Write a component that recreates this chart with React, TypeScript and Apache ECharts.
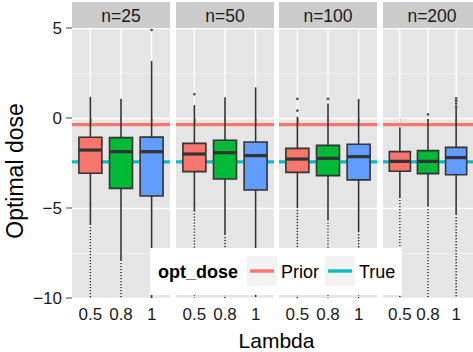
import React, { useEffect, useRef } from "react";
import * as echarts from "echarts";

// Facet labels and the Lambda levels shown in every facet
const panelLabels = ["n=25", "n=50", "n=100", "n=200"];
const lambdaLabels = ["0.5", "0.8", "1"];
const lambdaColors = ["#F8766D", "#00BA38", "#619CFF"];

// Box summaries per Lambda level: [lower whisker, Q1, median, Q3, upper whisker]
const boxesN25 = [
  [-5.95, -3.07, -1.78, -1.07, 1.18],
  [-7.95, -3.91, -1.87, -1.09, 1.07],
  [-10.0, -4.33, -1.87, -1.06, 3.17],
];
const boxesN50 = [
  [-5.2, -2.98, -2.0, -1.41, 0.72],
  [-6.5, -3.39, -1.93, -1.24, 1.15],
  [-9.95, -4.0, -2.09, -1.33, 1.7],
];
const boxesN100 = [
  [-5.0, -3.02, -2.28, -1.69, 0.07],
  [-5.7, -3.2, -2.24, -1.52, 0.81],
  [-6.35, -3.44, -2.15, -1.46, 1.06],
];
const boxesN200 = [
  [-4.46, -2.96, -2.41, -1.87, -0.52],
  [-4.93, -3.09, -2.41, -1.81, -0.06],
  [-5.39, -3.15, -2.2, -1.63, 0.59],
];
const panelBoxes = [boxesN25, boxesN50, boxesN100, boxesN200];

// Outliers above the upper whisker
const highOutliers = [
  [[], [], [4.89]],
  [[1.32], [], []],
  [[1.06, 0.41], [1.06], []],
  [[], [0.2], [1.09, 0.95, 0.8, 0.63]],
];
// Dense runs of outliers below the lower whisker: [top, bottom]; null = none
const lowOutlierRuns = [
  [[-6.05, -10], [-8.05, -10], null],
  [[-5.3, -10], [-6.6, -10], null],
  [[-5.1, -10], [-5.8, -10], [-6.45, -10]],
  [[-4.55, -10], [-5.05, -10], [-5.5, -10]],
];

// Horizontal reference doses
const refNames = ["Prior", "True"];
const refValues = [-0.37, -2.44];
const refColors = ["#F8766D", "#00BFC4"];

const yTicks = [5, 0, -5, -10];

const GRID_LEFTS = [72, 176, 279, 383];
const GRID_WIDTH = 98;
const GRID_TOP = 28;
const GRID_HEIGHT = 270;
const FONT = "'Liberation Sans', Arial, Helvetica, sans-serif";

function buildOption() {
  const grids: any[] = [];
  const xAxes: any[] = [];
  const yAxes: any[] = [];
  const series: any[] = [];
  const graphics: any[] = [];

  panelLabels.forEach((label, p) => {
    grids.push({
      left: GRID_LEFTS[p],
      top: GRID_TOP,
      width: GRID_WIDTH,
      height: GRID_HEIGHT,
      show: true,
      backgroundColor: "#E5E5E5",
      borderWidth: 0,
    });
    xAxes.push({
      type: "value",
      gridIndex: p,
      min: 0.4,
      max: 3.6,
      axisLine: { show: false },
      splitLine: { show: false },
      axisTick: {
        show: true,
        customValues: [1, 2, 3],
        length: 7,
        lineStyle: { color: "#7F7F7F", width: 1.5 },
      },
      axisLabel: {
        customValues: [1, 2, 3],
        formatter: (v: number) => lambdaLabels[Math.round(v) - 1] ?? "",
        fontSize: 17,
        fontFamily: FONT,
        color: "#1A1A1A",
        margin: 8,
      },
    });
    yAxes.push({
      type: "value",
      gridIndex: p,
      min: -10,
      max: 5,
      interval: 5,
      axisLine: { show: false },
      axisTick: {
        show: p === 0,
        length: 6,
        lineStyle: { color: "#7F7F7F", width: 1.5 },
      },
      axisLabel: {
        show: p === 0,
        customValues: yTicks,
        formatter: (v: number) => String(v).replace("-", "\u2212"),
        fontSize: 17,
        fontFamily: FONT,
        color: "#1A1A1A",
        margin: 10,
      },
      splitLine: { show: true, lineStyle: { color: "#FFFFFF", width: 1.3 } },
      minorTick: { show: false, splitNumber: 2 },
      minorSplitLine: { show: true, lineStyle: { color: "#F2F2F2", width: 0.8 } },
    });

    // vertical grid lines at each Lambda level
    series.push({
      type: "custom",
      xAxisIndex: p,
      yAxisIndex: p,
      silent: true,
      z: 1,
      encode: { x: 0, y: [1, 2] },
      data: lambdaLabels.map((_, i) => [i + 1, -10, 5]),
      renderItem: (_params: any, api: any) => {
        const a = api.coord([api.value(0), api.value(2)]);
        const b = api.coord([api.value(0), api.value(1)]);
        return {
          type: "line",
          shape: { x1: a[0], y1: a[1], x2: b[0], y2: b[1] },
          style: { stroke: "#FFFFFF", lineWidth: 1.4 },
        };
      },
    });

    // reference dose lines
    refNames.forEach((name, r) => {
      series.push({
        type: "line",
        name,
        xAxisIndex: p,
        yAxisIndex: p,
        z: 2,
        silent: true,
        showSymbol: false,
        data: [
          [0.4, refValues[r]],
          [3.6, refValues[r]],
        ],
        lineStyle: { color: refColors[r], width: 3.4 },
        itemStyle: { color: refColors[r] },
      });
    });

    // boxes
    series.push({
      type: "custom",
      xAxisIndex: p,
      yAxisIndex: p,
      silent: true,
      z: 3,
      encode: { x: 0, y: [1, 2, 3, 4, 5] },
      data: panelBoxes[p].map((b, i) => [i + 1, ...b]),
      renderItem: (_params: any, api: any) => {
        const x = api.value(0);
        const lo = api.coord([x, api.value(1)]);
        const q1 = api.coord([x, api.value(2)]);
        const md = api.coord([x, api.value(3)]);
        const q3 = api.coord([x, api.value(4)]);
        const hi = api.coord([x, api.value(5)]);
        const w = api.size([0.75, 0])[0];
        const cx = lo[0];
        const stroke = "#333333";
        return {
          type: "group",
          children: [
            {
              type: "line",
              shape: { x1: cx, y1: hi[1], x2: cx, y2: q3[1] },
              style: { stroke, lineWidth: 1.6 },
            },
            {
              type: "line",
              shape: { x1: cx, y1: q1[1], x2: cx, y2: lo[1] },
              style: { stroke, lineWidth: 1.6 },
            },
            {
              type: "rect",
              shape: { x: cx - w / 2, y: q3[1], width: w, height: q1[1] - q3[1] },
              style: { fill: lambdaColors[x - 1], stroke, lineWidth: 1.6 },
            },
            {
              type: "line",
              shape: { x1: cx - w / 2, y1: md[1], x2: cx + w / 2, y2: md[1] },
              style: { stroke, lineWidth: 3.2 },
            },
          ],
        };
      },
    });

    // dense low outliers
    const runs: number[][] = [];
    lowOutlierRuns[p].forEach((run, i) => {
      if (run) runs.push([i + 1, run[0], run[1]]);
    });
    series.push({
      type: "custom",
      xAxisIndex: p,
      yAxisIndex: p,
      silent: true,
      z: 4,
      encode: { x: 0, y: [1, 2] },
      data: runs,
      renderItem: (_params: any, api: any) => {
        const a = api.coord([api.value(0), api.value(1)]);
        const b = api.coord([api.value(0), api.value(2)]);
        return {
          type: "line",
          shape: { x1: a[0], y1: a[1], x2: b[0], y2: b[1] },
          style: { stroke: "#1A1A1A", lineWidth: 1.4, lineDash: [1.4, 1.6] },
        };
      },
    });

    // individual high outliers
    const pts: number[][] = [];
    highOutliers[p].forEach((vals, i) => vals.forEach((v) => pts.push([i + 1, v])));
    series.push({
      type: "scatter",
      xAxisIndex: p,
      yAxisIndex: p,
      silent: true,
      z: 4,
      symbol: "circle",
      symbolSize: 2.6,
      itemStyle: { color: "#1A1A1A" },
      data: pts,
    });

    // facet strip
    graphics.push({
      type: "rect",
      shape: { x: GRID_LEFTS[p], y: 2, width: GRID_WIDTH, height: GRID_TOP - 2 },
      style: { fill: "#CCCCCC" },
      z: 5,
    });
    graphics.push({
      type: "text",
      x: GRID_LEFTS[p] + GRID_WIDTH / 2,
      y: 15.5,
      style: {
        text: label,
        fontSize: 17.5,
        fontFamily: FONT,
        fill: "#1A1A1A",
        align: "center",
        verticalAlign: "middle",
      },
      z: 6,
    });
  });

  // axis titles
  graphics.push({
    type: "text",
    x: (GRID_LEFTS[0] + GRID_LEFTS[3] + GRID_WIDTH) / 2,
    y: 340,
    style: {
      text: "Lambda",
      fontSize: 21,
      fontFamily: FONT,
      fill: "#000",
      align: "center",
      verticalAlign: "middle",
    },
    z: 6,
  });
  graphics.push({
    type: "text",
    x: 15,
    y: 171,
    rotation: Math.PI / 2,
    style: {
      text: "Optimal dose",
      fontSize: 23,
      fontFamily: FONT,
      fill: "#000",
      align: "center",
      verticalAlign: "middle",
    },
    z: 6,
  });

  // legend box
  const LZ = 30;
  graphics.push({
    type: "rect",
    z: LZ,
    shape: { x: 150, y: 248, width: 252, height: 47 },
    style: { fill: "#FFFFFF" },
  });
  graphics.push({
    type: "text",
    z: LZ + 1,
    x: 158,
    y: 271.5,
    style: {
      text: "opt_dose",
      fontSize: 18,
      fontWeight: "bold",
      fontFamily: FONT,
      fill: "#000",
      verticalAlign: "middle",
    },
  });
  const keyX = [247, 325];
  refNames.forEach((name, r) => {
    graphics.push({
      type: "rect",
      z: LZ + 1,
      shape: { x: keyX[r], y: 256, width: 30, height: 30 },
      style: { fill: "#F2F2F2" },
    });
    graphics.push({
      type: "line",
      z: LZ + 2,
      shape: { x1: keyX[r] + 3, y1: 271, x2: keyX[r] + 27, y2: 271 },
      style: { stroke: refColors[r], lineWidth: 3.4 },
    });
    graphics.push({
      type: "text",
      z: LZ + 2,
      x: keyX[r] + 34,
      y: 271.5,
      style: {
        text: name,
        fontSize: 18,
        fontFamily: FONT,
        fill: "#000",
        verticalAlign: "middle",
      },
    });
  });

  return {
    animation: false,
    backgroundColor: "#FFFFFF",
    textStyle: { fontFamily: FONT },
    grid: grids,
    xAxis: xAxes,
    yAxis: yAxes,
    series,
    graphic: graphics,
  };
}

export default function App() {
  const ref = useRef<HTMLDivElement>(null);
  useEffect(() => {
    if (!ref.current) return;
    const chart = echarts.init(ref.current, null, { renderer: "svg" });
    chart.setOption(buildOption() as any);
    return () => chart.dispose();
  }, []);
  return (
    <div
      ref={ref}
      style={{ position: "fixed", left: 0, top: 0, width: 473, height: 352 }}
    />
  );
}
